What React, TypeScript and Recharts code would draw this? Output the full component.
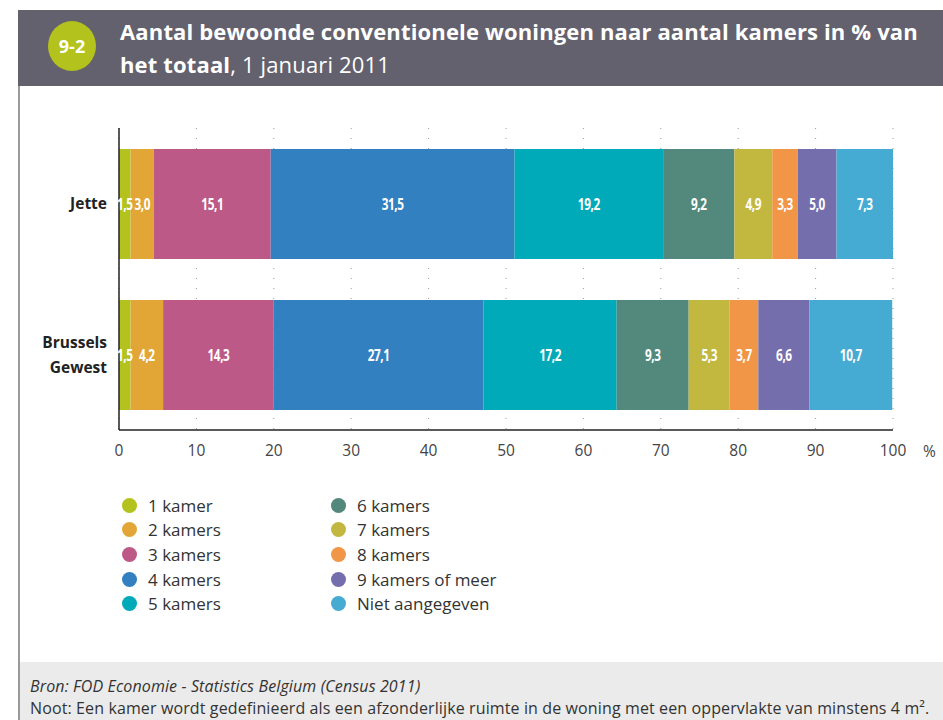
import React from 'react';
import { BarChart, Bar, XAxis, YAxis, CartesianGrid, LabelList, Legend, Label } from 'recharts';

const categories = ['Jette', 'Brussels Gewest'];
const seriesNames = ['1 kamer', '2 kamers', '3 kamers', '4 kamers', '5 kamers', '6 kamers', '7 kamers', '8 kamers', '9 kamers of meer', 'Niet aangegeven'];
const jetteValues = [1.5, 3.0, 15.1, 31.5, 19.2, 9.2, 4.9, 3.3, 5.0, 7.3];
const brusselsValues = [1.5, 4.2, 14.3, 27.1, 17.2, 9.3, 5.3, 3.7, 6.6, 10.7];
const seriesColors = ['#b3c21c', '#e2a636', '#bd5986', '#3380c0', '#00aab8', '#53897c', '#c3b83f', '#f19546', '#746ead', '#46abd2'];
const xTicks = [0, 10, 20, 30, 40, 50, 60, 70, 80, 90, 100];

const valueRows = [jetteValues, brusselsValues];
const data = categories.map((name, i) => {
  const row: Record<string, any> = { name };
  seriesNames.forEach((s, j) => {
    row['s' + j] = valueRows[i][j];
  });
  return row;
});

const FONT = '"Open Sans", "Noto Sans", sans-serif';

const YTick = (props: any) => {
  const { x, y, payload } = props;
  const words: string[] = String(payload.value).split(' ');
  const lh = 25;
  const startDy = -((words.length - 1) * lh) / 2 + 5.5;
  return (
    <text x={x} y={y} textAnchor="end" fontFamily={FONT} fontWeight={700} fontSize={15.5} fill="#222">
      {words.map((w, i) => (
        <tspan key={i} x={x} dy={i === 0 ? startDy : lh}>{w}</tspan>
      ))}
    </text>
  );
};

const renderLegend = () => {
  const cols = [seriesNames.slice(0, 5), seriesNames.slice(5)];
  return (
    <div style={{ display: 'flex', fontFamily: FONT, fontSize: 17, color: '#333' }}>
      {cols.map((col, ci) => (
        <div key={ci} style={{ width: ci === 0 ? 209 : 250 }}>
          {col.map((name, ri) => {
            const idx = ci * 5 + ri;
            return (
              <div key={name} style={{ display: 'flex', alignItems: 'center', height: 24.6 }}>
                <span style={{ display: 'inline-block', width: 15, height: 15, borderRadius: '50%', background: seriesColors[idx], marginRight: 11 }} />
                <span>{name}</span>
              </div>
            );
          })}
        </div>
      ))}
    </div>
  );
};

const fmt = (v: any) => Number(v).toFixed(1).replace('.', ',');

const BarLabel = (props: any) => {
  const { x, y, width, height, value } = props;
  const cx = Number(x) + Number(width) / 2;
  const cy = Number(y) + Number(height) / 2;
  return (
    <text transform={`translate(${cx},${cy}) scale(0.74,1)`} x={0} y={0} dy={5.8} textAnchor="middle"
      fill="#fff" fontFamily={FONT} fontWeight={700} fontSize={16} letterSpacing={-0.6}>
      {fmt(value)}
    </text>
  );
};

export default function App() {
  return (
    <div style={{ position: 'absolute', left: 0, top: 0, width: 943, height: 720, background: '#fff', overflow: 'hidden', fontFamily: FONT }}>
      {/* header */}
      <div style={{ position: 'absolute', left: 18, top: 10, width: 925, height: 76, background: '#63616e' }} />
      <div style={{ position: 'absolute', left: 48, top: 21, width: 48, height: 50, borderRadius: '50%', background: '#b3c21c', color: '#fff', fontWeight: 700, fontSize: 18, display: 'flex', alignItems: 'center', justifyContent: 'center' }}>9-2</div>
      <div style={{ position: 'absolute', left: 120, top: 15, width: 815, color: '#fff', fontSize: 22, lineHeight: '33px', letterSpacing: 0.15 }}>
        <div style={{ fontWeight: 700, whiteSpace: 'nowrap' }}>Aantal bewoonde conventionele woningen naar aantal kamers in % van</div>
        <div style={{ whiteSpace: 'nowrap' }}><span style={{ fontWeight: 700 }}>het totaal</span>, 1 januari 2011</div>
      </div>
      {/* left border */}
      <div style={{ position: 'absolute', left: 18, top: 86, width: 2, height: 634, background: '#9a9a9a' }} />
      {/* chart */}
      <div style={{ position: 'absolute', left: 0, top: 0 }}>
        <BarChart width={943} height={650} data={data} layout="vertical" margin={{ top: 128, right: 50, bottom: 190, left: 0 }}>
          <CartesianGrid horizontal={false} vertical={true} stroke="#9a9a9a" strokeDasharray="1 9" />
          <XAxis type="number" domain={[0, 100]} ticks={xTicks} interval={0} tickLine={false} tickSize={0} tickMargin={15}
            axisLine={{ stroke: '#222', strokeWidth: 1.5 }} height={30}
            tick={{ fontFamily: FONT, fontSize: 15.5, fill: '#444' }}>
            <Label value="%" position="right" offset={30} dy={6} style={{ fontFamily: FONT, fontSize: 15.5, fill: '#444' }} />
          </XAxis>
          <YAxis type="category" dataKey="name" width={119} tickLine={false} tickSize={0} tickMargin={12}
            axisLine={{ stroke: '#222', strokeWidth: 1.5 }} tick={<YTick />} />
          <Legend layout="vertical" align="center" verticalAlign="middle" content={renderLegend}
            wrapperStyle={{ position: 'absolute', left: 122, top: 493, width: 500, height: 130 }} />
          {seriesNames.map((s, j) => (
            <Bar key={s} dataKey={'s' + j} name={s} stackId="a" fill={seriesColors[j]} barSize={110} isAnimationActive={false}>
              <LabelList dataKey={'s' + j} content={<BarLabel />} />
            </Bar>
          ))}
        </BarChart>
      </div>
      {/* footer */}
      <div style={{ position: 'absolute', left: 20, top: 662, width: 923, height: 58, background: '#ebebeb', color: '#333', fontSize: 16, lineHeight: '22px', paddingLeft: 10, paddingTop: 13, boxSizing: 'border-box', letterSpacing: 0.12 }}>
        <div style={{ fontStyle: 'italic', whiteSpace: 'nowrap' }}>Bron: FOD Economie - Statistics Belgium (Census 2011)</div>
        <div style={{ whiteSpace: 'nowrap' }}>Noot: Een kamer wordt gedefinieerd als een afzonderlijke ruimte in de woning met een oppervlakte van minstens 4 m².</div>
      </div>
    </div>
  );
}
